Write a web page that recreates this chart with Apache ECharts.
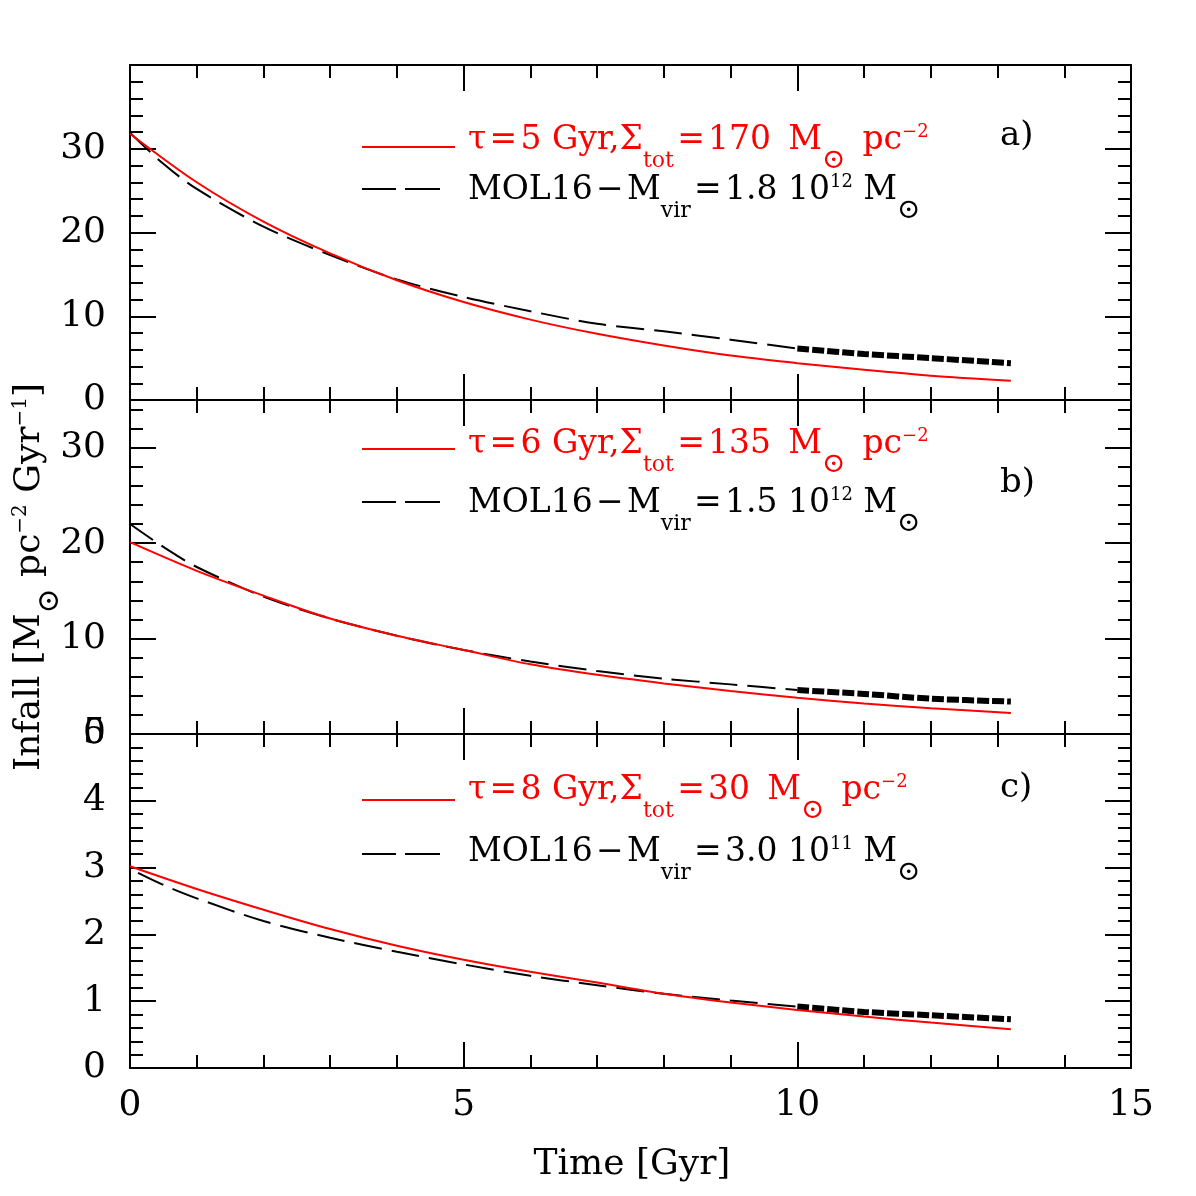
<!DOCTYPE html>
<html>
<head>
<meta charset="utf-8">
<script src="https://cdn.jsdelivr.net/npm/echarts@6/dist/echarts.min.js"></script>
<style>
  html, body { margin: 0; padding: 0; background: #fff; }
  #chart { width: 1196px; height: 1196px; }
</style>
</head>
<body>
<div id="chart"></div>
<script>
// model curves (red, solid)
const timeModel = [0, 1, 2, 3, 4, 5, 6, 7, 8, 9, 10, 11, 12, 13.2];
const modelA = [31.8, 26.0, 21.3, 17.5, 14.3, 11.7, 9.6, 7.9, 6.5, 5.3, 4.4, 3.6, 2.9, 2.3];
const modelB = [20.1, 17.1, 14.5, 12.1, 10.3, 8.8, 7.3, 6.2, 5.3, 4.5, 3.8, 3.2, 2.7, 2.2];
const modelC = [3.02, 2.68, 2.37, 2.08, 1.83, 1.62, 1.44, 1.28, 1.11, 0.98, 0.87, 0.77, 0.68, 0.58];

// MOL16 curves (black, dashed) up to 10 Gyr
const timeMol = [0, 0.5, 1, 2, 3, 4, 5, 6, 7, 8, 9, 10];
const timeMolC = [0.12, 0.5, 1, 2, 3, 4, 5, 6, 7, 8, 9, 10];
const molA = [31.9, 28.2, 25.2, 20.7, 17.3, 14.4, 12.3, 10.6, 9.1, 8.2, 7.2, 6.15];
const molB = [22.0, 19.6, 17.5, 14.4, 12.1, 10.3, 8.8, 7.6, 6.6, 5.8, 5.2, 4.6];
const molC = [2.92, 2.74, 2.54, 2.20, 1.95, 1.74, 1.55, 1.38, 1.24, 1.11, 1.01, 0.92];

// MOL16 noisy tail (10 - 13.2 Gyr)
const timeTail = [10, 11, 12, 13.2];
const tailA = [6.15, 5.5, 5.0, 4.4];
const tailB = [4.6, 4.2, 3.7, 3.4];
const tailC = [0.92, 0.84, 0.79, 0.73];

// y axis ranges per panel
const yMax = [40, 35, 5];
const yMajor = [10, 10, 1];
const yMinor = [2, 2, 0.2];
const xRange = [0, 15];
const xMajor = 5;

const FONT = 'DejaVu Serif';
const panelRects = [
  { left: 130, width: 1001, top: 65, height: 335 },
  { left: 130, width: 1001, top: 400, height: 334 },
  { left: 130, width: 1001, top: 734, height: 334 }
];

const blackLine = { color: '#000', width: 2 };

// main grids (0-2) carry the curves, the frame and the long ticks;
// twin grids (3-5) on the same rectangles only draw the short y ticks
const grids = panelRects.concat(panelRects).map(r => Object.assign({ outerBoundsMode: 'none' }, r));

const xAxis = [];
const yAxis = [];
for (let i = 0; i < 3; i++) {
  ['bottom', 'top'].forEach(function (pos) {
    xAxis.push({
      type: 'value', gridIndex: i, position: pos, min: xRange[0], max: xRange[1], interval: xMajor,
      axisLine: { show: true, onZero: false, lineStyle: blackLine },
      axisTick: { show: true, inside: true, length: 26, lineStyle: blackLine },
      minorTick: { show: true, splitNumber: 5, length: 13, lineStyle: blackLine },
      splitLine: { show: false },
      axisLabel: (i === 2 && pos === 'bottom')
        ? { show: true, margin: 20, color: '#000', fontFamily: FONT, fontSize: 36 }
        : { show: false }
    });
  });
  ['left', 'right'].forEach(function (pos) {
    yAxis.push({
      type: 'value', gridIndex: i, position: pos, min: 0, max: yMax[i], interval: yMajor[i],
      axisLine: { show: true, onZero: false, lineStyle: blackLine },
      axisTick: { show: true, inside: true, length: 26, lineStyle: blackLine },
      splitLine: { show: false },
      axisLabel: pos === 'left'
        ? { show: true, margin: 24, color: '#000', fontFamily: FONT, fontSize: 36, showMaxLabel: i === 2 }
        : { show: false }
    });
  });
}
for (let i = 0; i < 3; i++) {
  xAxis.push({ type: 'value', gridIndex: 3 + i, min: xRange[0], max: xRange[1], show: false });
  ['left', 'right'].forEach(function (pos) {
    yAxis.push({
      type: 'value', gridIndex: 3 + i, position: pos, min: 0, max: yMax[i], interval: yMinor[i],
      axisLine: { show: false },
      axisTick: { show: true, inside: true, length: 13, lineStyle: blackLine },
      splitLine: { show: false },
      axisLabel: { show: false }
    });
  });
}

const pts = (xs, ys) => xs.map((x, k) => [x, ys[k]]);

const models = [modelA, modelB, modelC];
const mols = [molA, molB, molC];
const tails = [tailA, tailB, tailC];
const molTimes = [timeMol, timeMol, timeMolC];

const series = [];
for (let i = 0; i < 3; i++) {
  series.push({
    type: 'line', xAxisIndex: i * 2, yAxisIndex: i * 2, data: pts(molTimes[i], mols[i]),
    smooth: 0.3, symbol: 'none', lineStyle: { color: '#000', width: 2, type: [28, 10] }, z: 3
  });
  series.push({
    type: 'line', xAxisIndex: i * 2, yAxisIndex: i * 2, data: pts(timeTail, tails[i]),
    smooth: 0.3, symbol: 'none', lineStyle: { color: '#000', width: 6, type: [12, 3] }, z: 3
  });
  series.push({
    type: 'line', xAxisIndex: i * 2, yAxisIndex: i * 2, data: pts(timeModel, models[i]),
    smooth: 0.3, symbol: 'none', lineStyle: { color: '#ff0000', width: 2 }, z: 4
  });
}

// rich text: n = normal, s = subscript, o = solar symbol, p = superscript (shifted with padding)
function richStyles(color, size, lh, subSize, subShift, sunSize, supSize, supShift) {
  return {
    n: { fontFamily: FONT, fontSize: size, lineHeight: lh, color: color, fill: color },
    s: { fontFamily: FONT, fontSize: subSize, verticalAlign: 'middle', padding: [subShift * 2, 0, 0, 0], color: color, fill: color },
    o: { fontFamily: FONT, fontSize: sunSize, verticalAlign: 'middle', padding: [subShift * 2, 0, 0, 0], color: color, fill: color },
    p: { fontFamily: FONT, fontSize: supSize, verticalAlign: 'middle', padding: [0, 0, supShift * 2, 0], color: color, fill: color }
  };
}
const legendRichRed = richStyles('#ff0000', 33, 90, 22, 21, 28, 18, 8);
const legendRichBlack = richStyles('#000', 33, 90, 22, 21, 28, 18, 8);

const legendPanels = [
  { redY: 147, redText: 140, blackY: 189, blackText: 190, tagY: 136, tau: '5', sigma: '170', mass: '1.8', exp: '12', tag: 'a)' },
  { redY: 449, redText: 444, blackY: 502, blackText: 503, tagY: 483, tau: '6', sigma: '135', mass: '1.5', exp: '12', tag: 'b)' },
  { redY: 800, redText: 790, blackY: 854, blackText: 852, tagY: 788, tau: '8', sigma: '30', mass: '3.0', exp: '11', tag: 'c)' }
];

const graphic = [];
legendPanels.forEach(function (p) {
  graphic.push({ type: 'line', shape: { x1: 362, y1: p.redY, x2: 455, y2: p.redY }, style: { stroke: '#ff0000', lineWidth: 2 } });
  graphic.push({ type: 'line', shape: { x1: 362, y1: p.blackY, x2: 396, y2: p.blackY }, style: { stroke: '#000', lineWidth: 2 } });
  graphic.push({ type: 'line', shape: { x1: 405, y1: p.blackY, x2: 440, y2: p.blackY }, style: { stroke: '#000', lineWidth: 2 } });
  graphic.push({
    type: 'text', x: 468, y: p.redText,
    style: {
      text: '{n|τ\u200a=\u200a' + p.tau + ' Gyr,Σ}{s|tot}{n|\u200a=\u200a' + p.sigma + '\u2009 M}{o|⊙}{n|\u2009 pc}{p|−2}',
      verticalAlign: 'middle', fill: '#ff0000', rich: legendRichRed
    }
  });
  graphic.push({
    type: 'text', x: 468, y: p.blackText,
    style: {
      text: '{n|MOL16\u200a−\u200aM}{s|vir}{n|\u200a=\u200a' + p.mass + ' 10}{p|' + p.exp + '}{n| M}{o|⊙}',
      verticalAlign: 'middle', fill: '#000', rich: legendRichBlack
    }
  });
  graphic.push({
    type: 'text', x: 1000, y: p.tagY,
    style: { text: p.tag, fontFamily: FONT, fontSize: 34, fill: '#000', verticalAlign: 'middle' }
  });
});

graphic.push({
  type: 'text', x: 632, y: 1165,
  style: { text: 'Time [Gyr]', fontFamily: FONT, fontSize: 36, fill: '#000', align: 'center', verticalAlign: 'middle' }
});
graphic.push({
  type: 'text', x: 30, y: 577, rotation: Math.PI / 2,
  style: {
    text: '{n|Infall [M}{o|⊙}{n| pc}{p|−2}{n| Gyr}{p|−1}{n|]}',
    align: 'center', verticalAlign: 'middle', fill: '#000',
    rich: richStyles('#000', 36, 90, 24, 20, 30, 20, 9)
  }
});

const chart = echarts.init(document.getElementById('chart'));
chart.setOption({
  animation: false,
  backgroundColor: '#fff',
  grid: grids,
  xAxis: xAxis,
  yAxis: yAxis,
  series: series,
  graphic: graphic
});
</script>
</body>
</html>
